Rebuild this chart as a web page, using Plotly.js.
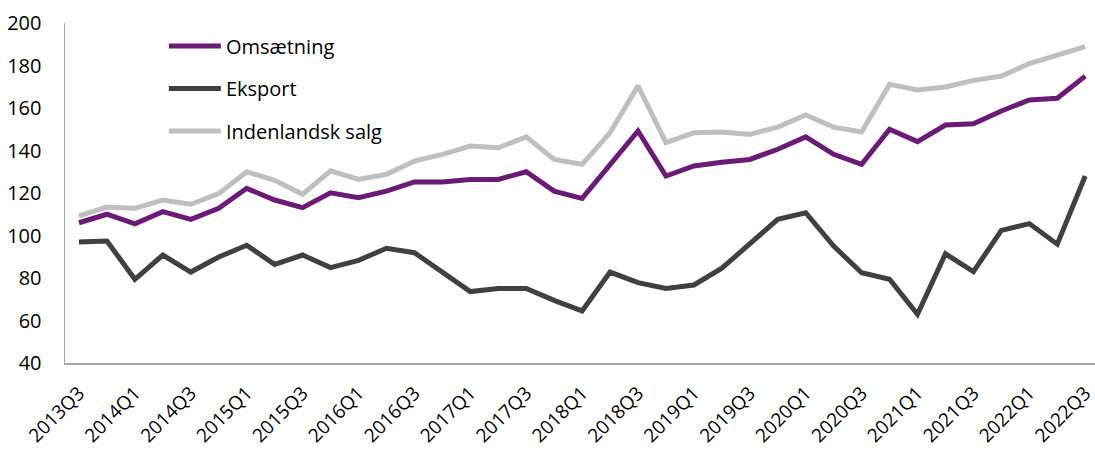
<!DOCTYPE html>
<html>
<head>
<meta charset="utf-8">
<script src="https://cdn.plot.ly/plotly-3.0.1.min.js"></script>
<style>html,body{margin:0;padding:0;background:#fff;}#chart{width:1095px;height:450px;}</style>
</head>
<body>
<div id="chart"></div>
<script>
const quarters = ["2013Q3","2013Q4","2014Q1","2014Q2","2014Q3","2014Q4","2015Q1","2015Q2","2015Q3","2015Q4",
"2016Q1","2016Q2","2016Q3","2016Q4","2017Q1","2017Q2","2017Q3","2017Q4","2018Q1","2018Q2",
"2018Q3","2018Q4","2019Q1","2019Q2","2019Q3","2019Q4","2020Q1","2020Q2","2020Q3","2020Q4",
"2021Q1","2021Q2","2021Q3","2021Q4","2022Q1","2022Q2","2022Q3"];

const omsaetning = [106,110,105.5,111.2,107.6,112.8,122.2,116.7,113.1,120.1,
117.8,120.9,125.2,125.2,126.4,126.4,130,120.9,117.5,133.5,
149.2,128,132.7,134.5,135.8,140.6,146.4,138.2,133.5,150,
144.2,152,152.6,158.6,163.8,164.6,175];

const eksport = [96.9,97.4,79.4,90.8,82.8,89.9,95.4,86.4,90.8,84.9,
88.3,94,91.9,82.5,73.6,75.1,75.1,69.5,64.5,82.8,
77.8,75.1,76.7,84.6,96.2,107.6,110.7,95,82.5,79.4,
62.9,91.4,83,102.4,105.6,95.9,128];

const indenlandsk = [109.2,113.4,112.8,116.7,114.7,119.7,130,126,119.4,130.4,
126.4,128.8,135,138.2,142.1,141.3,146.4,135.8,133.5,148.4,
170.4,143.7,148.4,148.7,147.6,151,156.7,151,148.7,171.1,
168.5,169.9,173,175,180.9,184.9,188.9];

const names = ["Omsætning","Eksport","Indenlandsk salg"];
const colors = ["#6a1b75","#404040","#bfbfbf"];
const yTicks = [40,60,80,100,120,140,160,180,200];

const idx = quarters.map((q,i)=>i);
const tickIdx = idx.filter(i=>i%2===0);
const tickText = tickIdx.map(i=>quarters[i]);

const series = [omsaetning, eksport, indenlandsk];
const traces = series.map((s,k)=>({
  x: idx, y: s, type:'scatter', mode:'lines', name: names[k],
  line:{color:colors[k], width:5, shape:'linear'},
  legendgroup:'g'+k
}));

const fontFam = '"Open Sans", sans-serif';
const layout = {
  width:1095, height:450,
  margin:{l:65, r:0, t:23, b:87},
  paper_bgcolor:'#fff', plot_bgcolor:'#fff',
  font:{family:fontFam, size:20, color:'#000'},
  showlegend:true,
  legend:{x:0.096, y:0.99, xanchor:'left', yanchor:'top', traceorder:'grouped', tracegroupgap:13.5,
          itemwidth:52,
          font:{family:fontFam, size:20, color:'#000'}, bgcolor:'rgba(0,0,0,0)'},
  xaxis:{range:[-0.5,36.35], tickmode:'array', tickvals:tickIdx, ticktext:tickText, tickangle:-45,
         showgrid:false, zeroline:false, showline:true, linecolor:'#a6a6a6', linewidth:1.5, ticks:'',
         ticklabelstandoff:10, ticklabeloverflow:'allow', tickfont:{family:fontFam, size:19, color:'#000'}},
  yaxis:{range:[40,200], tickmode:'array', tickvals:yTicks, showgrid:false, zeroline:false,
         showline:true, linecolor:'#a6a6a6', linewidth:1.5, ticks:'', ticklabelstandoff:18,
         tickfont:{family:fontFam, size:20, color:'#000'}}
};
Plotly.newPlot('chart', traces, layout, {displayModeBar:false, staticPlot:true});
</script>
</body>
</html>
